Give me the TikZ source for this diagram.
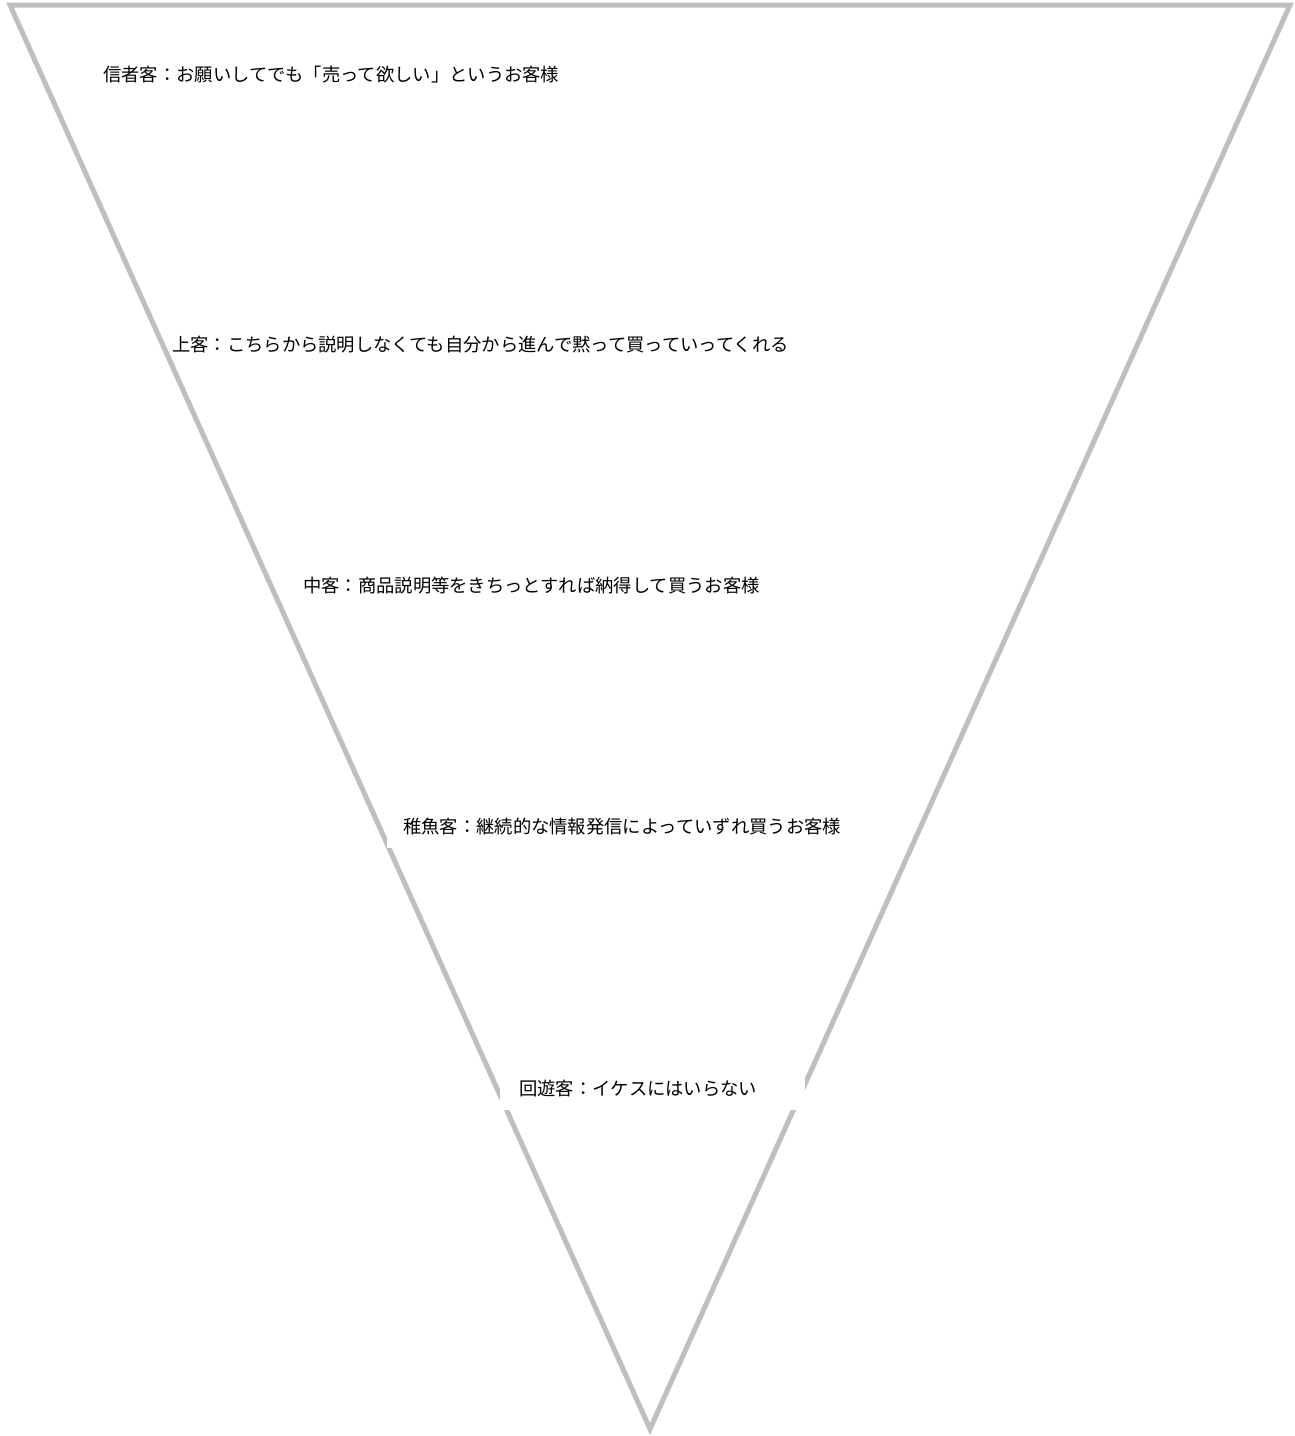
\documentclass[tikz,border=0pt]{standalone}
\usepackage{fontspec}
\newfontfamily\jp{Noto Sans CJK JP}
\definecolor{trigray}{RGB}{191,191,191}
\tikzset{
  tri/.style={draw=trigray, line width=5pt, line join=miter},
  lbl/.style={anchor=west, inner sep=0pt, font=\jp\fontsize{18.3}{21}\selectfont, text=black},
  mask/.style={fill=white, draw=none}
}
\begin{document}
\begin{tikzpicture}[x=1pt,y=1pt]
\useasboundingbox (0,0) rectangle (1295,-1436);
\coordinate (tl) at (10,-5);
\coordinate (tr) at (1290,-5);
\coordinate (ap) at (650,-1429);
\draw[tri] (tl) -- (tr) -- (ap) -- cycle;
% white text boxes that hide parts of the outline
\fill[mask] (387,-806) rectangle (870,-848);
\fill[mask] (500,-1066) rectangle (805,-1110);
\node[lbl] (l1) at (103,-75) {信者客：お願いしてでも「売って欲しい」というお客様};
\node[lbl] (l2) at (172,-345) {上客：こちらから説明しなくても自分から進んで黙って買っていってくれる};
\node[lbl] (l3) at (303,-586) {中客：商品説明等をきちっとすれば納得して買うお客様};
\node[lbl] (l4) at (403,-827) {稚魚客：継続的な情報発信によっていずれ買うお客様};
\node[lbl] (l5) at (519,-1088) {回遊客：イケスにはいらない};
\end{tikzpicture}
\end{document}
